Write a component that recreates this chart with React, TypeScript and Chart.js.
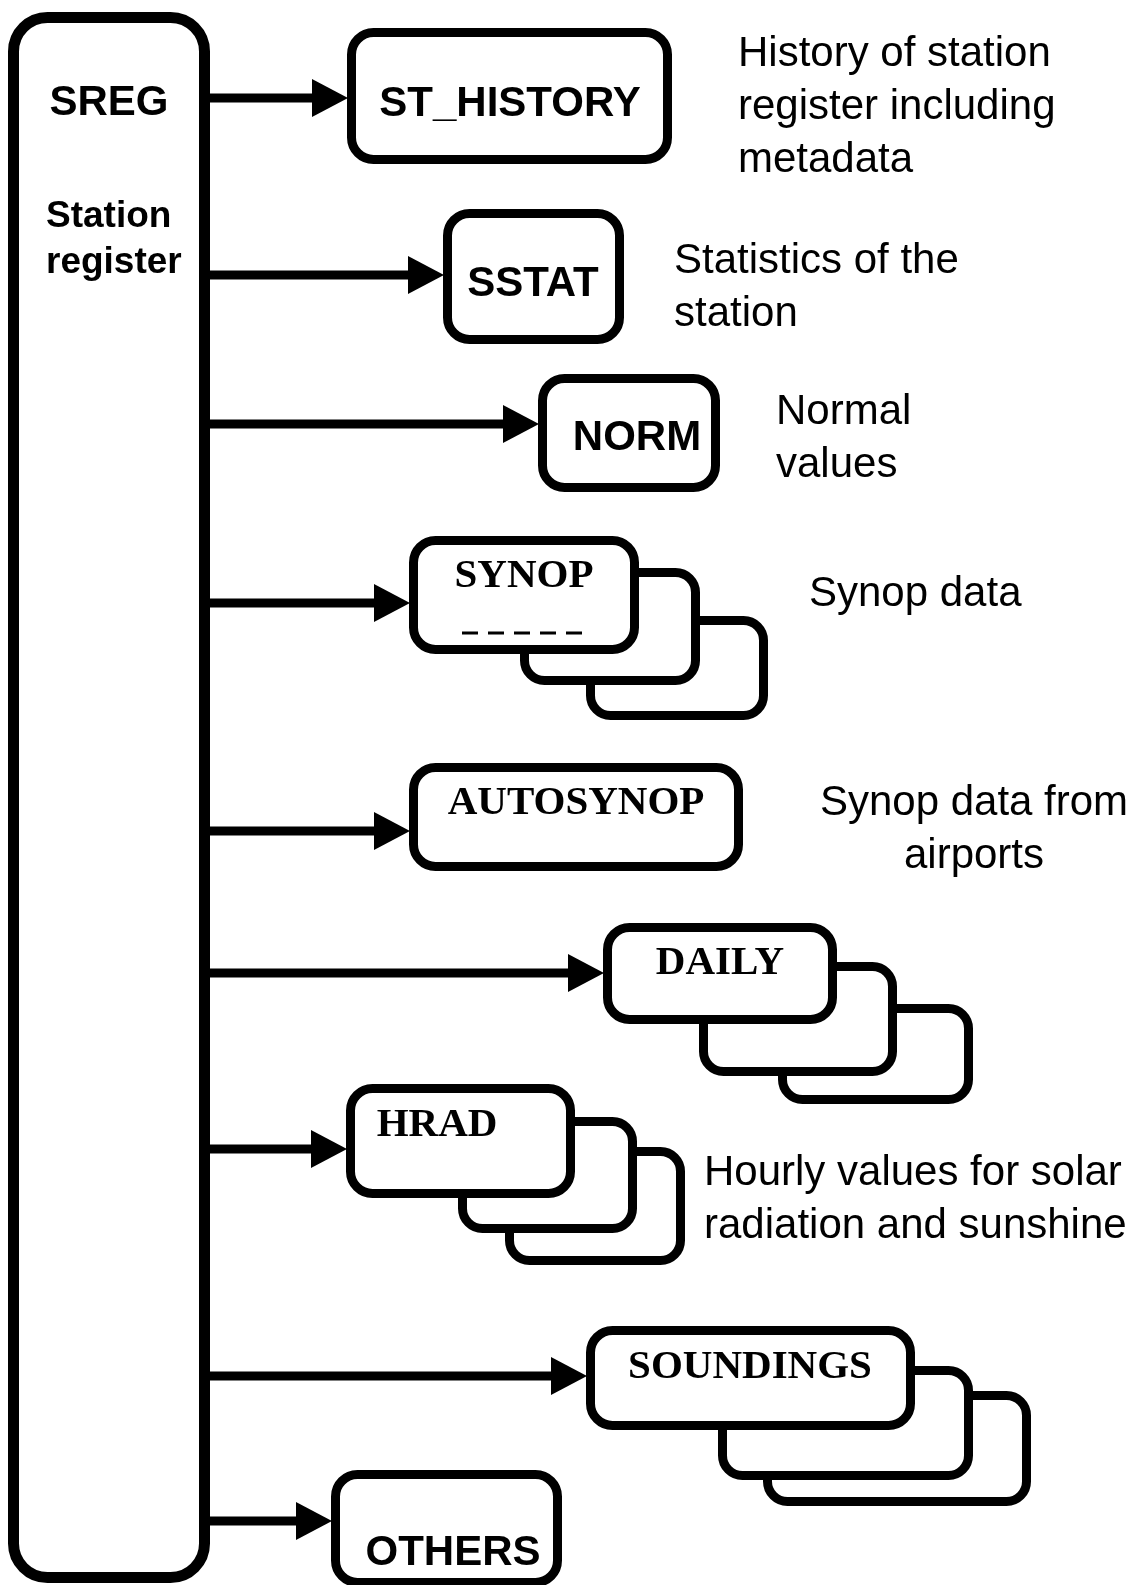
import React, { useEffect, useRef } from "react";
import { Chart, registerables } from "chart.js";

Chart.register(...registerables);

const W = 1142;
const H = 1585;

// Main register box (SREG)
const sregBox = { left: 8, right: 210, top: 12, bottom: 1583 };
const sregTitle = "SREG";
const sregTitlePos = { x: 109, y: 115 };
const sregSub = ["Station", "register"];
const sregSubX = 46;
const sregSubY = [227, 273];

// Target boxes
const boxNames = ["ST_HISTORY", "SSTAT", "NORM", "SYNOP", "AUTOSYNOP", "DAILY", "HRAD", "SOUNDINGS", "OTHERS"];
const boxLeft = [347, 443, 538, 409, 409, 603, 346, 586, 331];
const boxRight = [672, 624, 720, 639, 743, 837, 575, 915, 562];
const boxTop = [28, 209, 374, 536, 763, 923, 1084, 1326, 1470];
const boxBottom = [164, 344, 492, 654, 871, 1024, 1198, 1430, 1587];
const labelX = [510, 533, 637, 524, 576, 720, 437, 750, 453];
const labelCapMid = [101, 281, 435, 573, 800, 960, 1122, 1364, 1550];
const labelSerif = [false, false, false, true, true, true, true, true, false];
const arrowY = [98, 275, 424, 603, 831, 973, 1149, 1376, 1521];

// Stacked (shadow) boxes behind multi-file boxes
const backLeft = [520, 586, 699, 778, 458, 505, 718, 763];
const backRight = [700, 768, 897, 973, 637, 685, 973, 1031];
const backTop = [568, 616, 962, 1004, 1117, 1147, 1366, 1391];
const backBottom = [685, 720, 1076, 1104, 1233, 1265, 1480, 1506];

// Dashed line inside SYNOP
const dashLine = { x0: 462, x1: 583, y: 633 };

// Description notes
const noteLines = [
  ["History of station", "register including", "metadata"],
  ["Statistics of the", "station"],
  ["Normal", "values"],
  ["Synop data"],
  ["Synop data from", "airports"],
  ["Hourly values for solar", "radiation and sunshine"],
];
const noteX = [738, 674, 776, 809, 974, 704];
const noteCapMid = [51, 258, 409, 591, 800, 1170];
const noteAlign: CanvasTextAlign[] = ["left", "left", "left", "left", "center", "left"];
const noteLineGap = 53;

const SANS = '"Liberation Sans", Arial, Helvetica, sans-serif';
const SERIF = '"Liberation Serif", "Times New Roman", serif';
const STROKE = 9;
const ARROW_LEN = 36;
const ARROW_HALF = 19;

function roundRectPath(ctx: CanvasRenderingContext2D, x0: number, y0: number, x1: number, y1: number, r: number) {
  ctx.beginPath();
  ctx.moveTo(x0 + r, y0);
  ctx.lineTo(x1 - r, y0);
  ctx.arcTo(x1, y0, x1, y0 + r, r);
  ctx.lineTo(x1, y1 - r);
  ctx.arcTo(x1, y1, x1 - r, y1, r);
  ctx.lineTo(x0 + r, y1);
  ctx.arcTo(x0, y1, x0, y1 - r, r);
  ctx.lineTo(x0, y0 + r);
  ctx.arcTo(x0, y0, x0 + r, y0, r);
  ctx.closePath();
}

const diagramPlugin = {
  id: "diagram",
  beforeDraw(chart: any) {
    const ctx = chart.ctx as CanvasRenderingContext2D;
    ctx.save();
    ctx.fillStyle = "#fff";
    ctx.fillRect(0, 0, chart.width, chart.height);
    ctx.restore();
  },
  afterDatasetsDraw(chart: any) {
    const ctx = chart.ctx as CanvasRenderingContext2D;
    const xs = chart.scales.x;
    const ys = chart.scales.y;
    const px = (v: number) => xs.getPixelForValue(v);
    const py = (v: number) => ys.getPixelForValue(v);

    const box = (l: number, r: number, t: number, b: number, rad: number, sw: number) => {
      const hw = sw / 2;
      roundRectPath(ctx, px(l) + hw, py(t) + hw, px(r) - hw, py(b) - hw, rad);
      ctx.fillStyle = "#fff";
      ctx.fill();
      ctx.lineWidth = sw;
      ctx.strokeStyle = "#000";
      ctx.stroke();
    };

    ctx.save();
    // SREG
    box(sregBox.left, sregBox.right, sregBox.top, sregBox.bottom, 34, 11);

    // back boxes (draw farthest first)
    for (let i = backLeft.length - 1; i >= 0; i--) {
      box(backLeft[i], backRight[i], backTop[i], backBottom[i], 20, STROKE);
    }
    // front boxes
    for (let i = 0; i < boxNames.length; i++) {
      box(boxLeft[i], boxRight[i], boxTop[i], boxBottom[i], 22, STROKE);
    }

    // arrowheads
    ctx.fillStyle = "#000";
    for (let i = 0; i < arrowY.length; i++) {
      const tip = px(boxLeft[i] + 1);
      const y = py(arrowY[i]);
      ctx.beginPath();
      ctx.moveTo(tip, y);
      ctx.lineTo(tip - ARROW_LEN, y - ARROW_HALF);
      ctx.lineTo(tip - ARROW_LEN, y + ARROW_HALF);
      ctx.closePath();
      ctx.fill();
    }

    // dashed line in SYNOP
    ctx.beginPath();
    ctx.setLineDash([16, 10]);
    ctx.lineWidth = 3;
    ctx.moveTo(px(dashLine.x0), py(dashLine.y));
    ctx.lineTo(px(dashLine.x1), py(dashLine.y));
    ctx.stroke();
    ctx.setLineDash([]);

    // texts
    ctx.fillStyle = "#000";
    ctx.textBaseline = "alphabetic";
    ctx.textAlign = "center";
    ctx.font = `bold 42px ${SANS}`;
    ctx.fillText(sregTitle, px(sregTitlePos.x), py(sregTitlePos.y));
    ctx.textAlign = "left";
    ctx.font = `bold 37px ${SANS}`;
    sregSub.forEach((s, i) => ctx.fillText(s, px(sregSubX), py(sregSubY[i])));

    ctx.textAlign = "center";
    for (let i = 0; i < boxNames.length; i++) {
      const fs = labelSerif[i] ? 41 : 42;
      ctx.font = labelSerif[i] ? `bold ${fs}px ${SERIF}` : `bold ${fs}px ${SANS}`;
      const capH = labelSerif[i] ? 0.662 : 0.716;
      ctx.fillText(boxNames[i], px(labelX[i]), py(labelCapMid[i] + (capH * fs) / 2));
    }

    ctx.font = `42px ${SANS}`;
    for (let i = 0; i < noteLines.length; i++) {
      ctx.textAlign = noteAlign[i];
      noteLines[i].forEach((line, j) => {
        ctx.fillText(line, px(noteX[i]), py(noteCapMid[i] + 15 + j * noteLineGap));
      });
    }
    ctx.restore();
  },
};

export default function App() {
  const ref = useRef<HTMLCanvasElement | null>(null);
  useEffect(() => {
    if (!ref.current) return;
    const chart = new Chart(ref.current, {
      type: "scatter",
      data: {
        datasets: arrowY.map((y, i) => ({
          type: "line" as const,
          label: boxNames[i],
          data: [
            { x: sregBox.right - 4, y },
            { x: boxLeft[i] + 1 - ARROW_LEN + 2, y },
          ],
          borderColor: "#000",
          borderWidth: 9,
          pointRadius: 0,
          showLine: true,
          borderCapStyle: "butt" as const,
        })),
      },
      options: {
        animation: false,
        responsive: false,
        maintainAspectRatio: false,
        events: [],
        layout: { padding: 0 },
        plugins: { legend: { display: false }, tooltip: { enabled: false } },
        scales: {
          x: { type: "linear", min: 0, max: W, display: false },
          y: { type: "linear", min: 0, max: H, reverse: true, display: false },
        },
      },
      plugins: [diagramPlugin],
    } as any);
    return () => chart.destroy();
  }, []);
  return (
    <div style={{ position: "absolute", left: 0, top: 0, width: W, height: H, background: "#fff" }}>
      <canvas ref={ref} width={W} height={H} style={{ width: W, height: H, display: "block" }} />
    </div>
  );
}
